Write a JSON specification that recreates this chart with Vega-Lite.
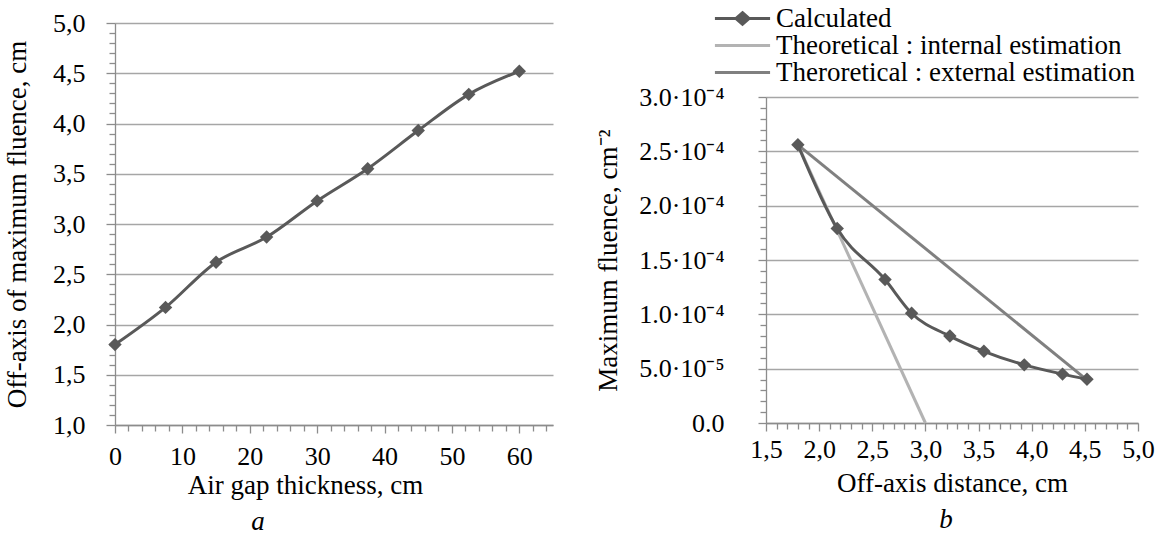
{
  "$schema": "https://vega.github.io/schema/vega-lite/v6.json",
  "background": "white",
  "padding": {"left": 3, "top": 5, "right": 0, "bottom": 0},
  "spacing": 41,
  "resolve": {"scale": {"color": "independent"}, "legend": {"color": "independent"}},
  "config": {
    "font": "Liberation Serif, Times New Roman, serif",
    "view": {"stroke": null},
    "axis": {
      "labelFont": "Liberation Serif, Times New Roman, serif",
      "titleFont": "Liberation Serif, Times New Roman, serif",
      "labelFontSize": 26,
      "titleFontSize": 27,
      "labelColor": "#000000",
      "titleColor": "#000000",
      "titleFontWeight": "normal",
      "domainColor": "#8c8c8c",
      "tickColor": "#8c8c8c",
      "gridColor": "#a6a6a6",
      "domainWidth": 1.3,
      "tickWidth": 1.3,
      "gridWidth": 1.3,
      "labelOverlap": false,
      "labelBound": false,
      "labelFlush": false
    },
    "title": {"font": "Liberation Serif, Times New Roman, serif", "fontSize": 27, "fontStyle": "italic", "fontWeight": "normal", "color": "#000000"}
  },
  "hconcat": [
    {
      "width": 438,
      "height": 402,
      "title": {"text": "a", "orient": "bottom", "dx": -76, "offset": 11},
      "data": {"values": [
        {"gap": 0, "offaxis": 1.80},
        {"gap": 7.5, "offaxis": 2.17},
        {"gap": 15, "offaxis": 2.62},
        {"gap": 22.5, "offaxis": 2.87},
        {"gap": 30, "offaxis": 3.23},
        {"gap": 37.5, "offaxis": 3.55},
        {"gap": 45, "offaxis": 3.93},
        {"gap": 52.5, "offaxis": 4.29},
        {"gap": 60, "offaxis": 4.52}
      ]},
      "mark": {"type": "line", "interpolate": "monotone", "color": "#595959", "strokeWidth": 3,
        "point": {"shape": "diamond", "size": 180, "filled": true, "color": "#595959", "opacity": 1}},
      "encoding": {
        "x": {"field": "gap", "type": "quantitative",
          "scale": {"domain": [0, 65], "nice": false},
          "axis": {
            "title": "Air gap thickness, cm",
            "values": [0,2,4,6,8,10,12,14,16,18,20,22,24,26,28,30,32,34,36,38,40,42,44,46,48,50,52,54,56,58,60,62,64],
            "labelExpr": "datum.value % 10 === 0 ? format(datum.value, 'd') : ''",
            "grid": false,
            "tickSize": {"condition": {"test": "datum.value % 10 === 0", "value": 8}, "value": 6},
            "labelPadding": 10,
            "titlePadding": 3,
            "titleX": 190
          }},
        "y": {"field": "offaxis", "type": "quantitative",
          "scale": {"domain": [1, 5], "nice": false, "zero": false},
          "axis": {
            "title": "Off-axis of maximum fluence, cm",
            "values": [1.0,1.1,1.2,1.3,1.4,1.5,1.6,1.7,1.8,1.9,2.0,2.1,2.2,2.3,2.4,2.5,2.6,2.7,2.8,2.9,3.0,3.1,3.2,3.3,3.4,3.5,3.6,3.7,3.8,3.9,4.0,4.1,4.2,4.3,4.4,4.5,4.6,4.7,4.8,4.9,5.0],
            "labelExpr": "abs(datum.value*2 - round(datum.value*2)) < 0.000001 ? replace(format(datum.value, '.1f'), '.', ',') : ''",
            "grid": true,
            "gridOpacity": {"condition": {"test": "abs(datum.value*2 - round(datum.value*2)) < 0.000001", "value": 1}, "value": 0},
            "tickSize": {"condition": {"test": "abs(datum.value*2 - round(datum.value*2)) < 0.000001", "value": 9}, "value": 6},
            "labelPadding": 21,
            "titlePadding": 21
          }}
      }
    },
    {
      "width": 372,
      "height": 400,
      "title": {"text": "b", "orient": "bottom", "dx": -6, "offset": 11},
      "data": {"values": [
        {"series": "Calculated", "dist": 1.80, "fluence": 0.000256},
        {"series": "Calculated", "dist": 2.17, "fluence": 0.000179},
        {"series": "Calculated", "dist": 2.62, "fluence": 0.000132},
        {"series": "Calculated", "dist": 2.87, "fluence": 0.000101},
        {"series": "Calculated", "dist": 3.23, "fluence": 0.000080},
        {"series": "Calculated", "dist": 3.55, "fluence": 0.000066},
        {"series": "Calculated", "dist": 3.93, "fluence": 0.0000535},
        {"series": "Calculated", "dist": 4.29, "fluence": 0.000045},
        {"series": "Calculated", "dist": 4.52, "fluence": 0.0000403},
        {"series": "Theoretical : internal estimation", "dist": 1.80, "fluence": 0.000256},
        {"series": "Theoretical : internal estimation", "dist": 3.00, "fluence": 0},
        {"series": "Theroretical : external estimation", "dist": 1.80, "fluence": 0.000256},
        {"series": "Theroretical : external estimation", "dist": 4.49, "fluence": 0.000042}
      ]},
      "encoding": {
        "x": {"field": "dist", "type": "quantitative",
          "scale": {"domain": [1.5, 5.0], "nice": false, "zero": false},
          "axis": {
            "title": "Off-axis distance, cm",
            "values": [1.5,1.6,1.7,1.8,1.9,2.0,2.1,2.2,2.3,2.4,2.5,2.6,2.7,2.8,2.9,3.0,3.1,3.2,3.3,3.4,3.5,3.6,3.7,3.8,3.9,4.0,4.1,4.2,4.3,4.4,4.5,4.6,4.7,4.8,4.9,5.0],
            "labelExpr": "abs(datum.value*2 - round(datum.value*2)) < 0.000001 ? replace(format(datum.value, '.1f'), '.', ',') : ''",
            "grid": false,
            "tickSize": {"condition": {"test": "abs(datum.value*2 - round(datum.value*2)) < 0.000001", "value": 8}, "value": 6},
            "labelPadding": 5,
            "titlePadding": 8
          }},
        "y": {"field": "fluence", "type": "quantitative",
          "scale": {"domain": [0, 0.0003], "nice": false, "range": [400, 74]},
          "axis": {
            "title": "Maximum fluence, cm⁻²",
            "titleY": 237,
            "values": [0,0.00001,0.00002,0.00003,0.00004,0.00005,0.00006,0.00007,0.00008,0.00009,0.0001,0.00011,0.00012,0.00013,0.00014,0.00015,0.00016,0.00017,0.00018,0.00019,0.0002,0.00021,0.00022,0.00023,0.00024,0.00025,0.00026,0.00027,0.00028,0.00029,0.0003],
            "labelExpr": "round(datum.value*100000) % 5 !== 0 ? '' : (round(datum.value*100000) === 0 ? '0.0' : (round(datum.value*100000) >= 10 ? format(round(datum.value*100000)/10, '.1f') + '·10⁻⁴' : format(round(datum.value*100000), '.1f') + '·10⁻⁵'))",
            "grid": true,
            "gridOpacity": {"condition": {"test": "round(datum.value*100000) % 5 === 0", "value": 1}, "value": 0},
            "tickSize": {"condition": {"test": "round(datum.value*100000) % 5 === 0", "value": 8}, "value": 6},
            "labelPadding": 34,
            "titlePadding": 16
          }}
      },
      "layer": [
        {
          "transform": [{"filter": "datum.series !== 'Calculated'"}],
          "mark": {"type": "line", "strokeWidth": 3},
          "encoding": {
            "color": {"field": "series", "type": "nominal",
              "scale": {"domain": ["Calculated", "Theoretical : internal estimation", "Theroretical : external estimation"], "range": ["#595959", "#b3b3b3", "#808080"]},
              "legend": {
                "title": null,
                "orient": "none",
                "legendX": -37,
                "legendY": -18,
                "padding": 0,
                "labelFont": "Liberation Serif, Times New Roman, serif",
                "labelFontSize": 27,
                "labelColor": "#000000",
                "labelLimit": 600,
                "symbolType": "M-2.6,0H2.6",
                "symbolSize": 450,
                "symbolStrokeWidth": 3,
                "labelOffset": 20,
                "rowPadding": -1,
                "encode": {"symbols": {"update": {
                  "shape": {"signal": "datum.value === 'Calculated' ? 'M-2.6,0H2.6M0,-0.55L0.62,0L0,0.55L-0.62,0Z' : 'M-2.6,0H2.6'"},
                  "fill": {"signal": "datum.value === 'Calculated' ? '#595959' : 'transparent'"}
                }}}
              }}
          }
        },
        {
          "transform": [{"filter": "datum.series === 'Calculated'"}],
          "mark": {"type": "line", "interpolate": "monotone", "strokeWidth": 3},
          "encoding": {
            "color": {"field": "series", "type": "nominal"}
          }
        },
        {
          "transform": [{"filter": "datum.series === 'Calculated'"}],
          "mark": {"type": "point", "shape": "diamond", "size": 180, "filled": true, "color": "#595959", "opacity": 1}
        }
      ]
    }
  ]
}
